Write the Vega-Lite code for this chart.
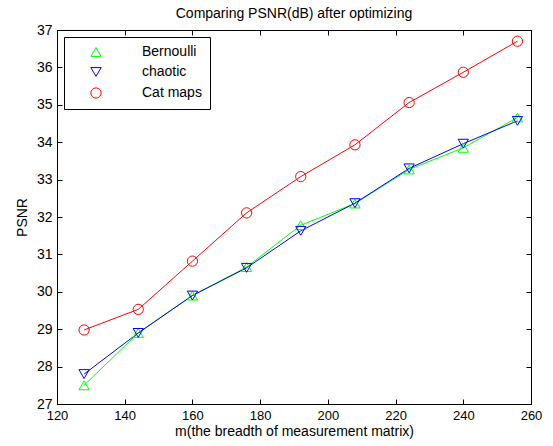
{
  "$schema": "https://vega.github.io/schema/vega-lite/v6.json",
  "width": 474,
  "height": 374,
  "autosize": {"type": "none"},
  "padding": {"left": 57, "top": 30, "right": 22, "bottom": 42},
  "background": "white",
  "title": {
    "text": "Comparing PSNR(dB) after optimizing",
    "font": "Liberation Sans",
    "fontSize": 14,
    "fontWeight": "normal",
    "color": "black",
    "anchor": "middle",
    "baseline": "alphabetic",
    "offset": -9
  },
  "config": {
    "view": {"stroke": "black", "strokeWidth": 1},
    "axis": {
      "grid": false,
      "domainColor": "black",
      "tickColor": "black",
      "tickSize": -5,
      "labelFont": "Liberation Sans",
      "labelFontSize": 13,
      "labelColor": "black",
      "titleFont": "Liberation Sans",
      "titleFontSize": 14,
      "titleFontWeight": "normal",
      "titleColor": "black",
      "labelFlush": false,
      "labelOverlap": false
    }
  },
  "data": {
    "values": [
      {"m": 128, "psnr": 27.5, "method": "Bernoulli"},
      {"m": 144, "psnr": 28.9, "method": "Bernoulli"},
      {"m": 160, "psnr": 29.9, "method": "Bernoulli"},
      {"m": 176, "psnr": 30.66, "method": "Bernoulli"},
      {"m": 192, "psnr": 31.78, "method": "Bernoulli"},
      {"m": 208, "psnr": 32.36, "method": "Bernoulli"},
      {"m": 224, "psnr": 33.27, "method": "Bernoulli"},
      {"m": 240, "psnr": 33.85, "method": "Bernoulli"},
      {"m": 256, "psnr": 34.66, "method": "Bernoulli"},
      {"m": 128, "psnr": 27.8, "method": "chaotic"},
      {"m": 144, "psnr": 28.9, "method": "chaotic"},
      {"m": 160, "psnr": 29.9, "method": "chaotic"},
      {"m": 176, "psnr": 30.64, "method": "chaotic"},
      {"m": 192, "psnr": 31.63, "method": "chaotic"},
      {"m": 208, "psnr": 32.37, "method": "chaotic"},
      {"m": 224, "psnr": 33.3, "method": "chaotic"},
      {"m": 240, "psnr": 33.96, "method": "chaotic"},
      {"m": 256, "psnr": 34.57, "method": "chaotic"},
      {"m": 128, "psnr": 28.98, "method": "Cat maps"},
      {"m": 144, "psnr": 29.53, "method": "Cat maps"},
      {"m": 160, "psnr": 30.82, "method": "Cat maps"},
      {"m": 176, "psnr": 32.11, "method": "Cat maps"},
      {"m": 192, "psnr": 33.08, "method": "Cat maps"},
      {"m": 208, "psnr": 33.93, "method": "Cat maps"},
      {"m": 224, "psnr": 35.06, "method": "Cat maps"},
      {"m": 240, "psnr": 35.87, "method": "Cat maps"},
      {"m": 256, "psnr": 36.7, "method": "Cat maps"}
    ]
  },
  "resolve": {"axis": {"x": "independent", "y": "independent"}},
  "layer": [
    {
      "mark": {"type": "line", "strokeWidth": 1},
      "encoding": {
        "x": {
          "field": "m", "type": "quantitative",
          "scale": {"domain": [120, 260], "nice": false, "zero": false},
          "axis": {
            "orient": "bottom",
            "values": [120, 140, 160, 180, 200, 220, 240, 260],
            "title": "m(the breadth of measurement matrix)",
            "labelPadding": 10,
            "titleX": 237,
            "titleY": 31.5,
            "titleBaseline": "alphabetic",
            "titleAnchor": "middle"
          }
        },
        "y": {
          "field": "psnr", "type": "quantitative",
          "scale": {"domain": [27, 37], "nice": false, "zero": false},
          "axis": {
            "orient": "left",
            "values": [27, 28, 29, 30, 31, 32, 33, 34, 35, 36, 37],
            "title": "PSNR",
            "labelFontSize": 14,
            "labelPadding": 10,
            "titleX": -31,
            "titleY": 187,
            "titleAngle": -90,
            "titleBaseline": "alphabetic",
            "titleAlign": "center"
          }
        },
        "color": {
          "field": "method", "type": "nominal",
          "sort": ["Bernoulli", "chaotic", "Cat maps"],
          "scale": {"domain": ["Bernoulli", "chaotic", "Cat maps"], "range": ["#00ff00", "#0000ff", "#ff0000"]},
          "legend": {
            "orient": "none",
            "legendX": 7,
            "legendY": 7,
            "title": null,
            "strokeColor": "black",
            "fillColor": "white",
            "padding": 8,
            "labelFont": "Liberation Sans",
            "labelFontSize": 14,
            "labelColor": "black",
            "symbolSize": 100,
            "symbolOffset": 17,
            "labelOffset": 39,
            "symbolStrokeWidth": 1,
            "symbolFillColor": "transparent",
            "rowPadding": 6
          }
        },
        "order": {"field": "m", "type": "quantitative"}
      }
    },
    {
      "mark": {"type": "point", "filled": false, "strokeWidth": 1, "opacity": 1},
      "encoding": {
        "x": {
          "field": "m", "type": "quantitative",
          "axis": {"orient": "top", "values": [120, 140, 160, 180, 200, 220, 240, 260], "labels": false, "title": null}
        },
        "y": {
          "field": "psnr", "type": "quantitative",
          "axis": {"orient": "right", "values": [27, 28, 29, 30, 31, 32, 33, 34, 35, 36, 37], "labels": false, "title": null}
        },
        "color": {"field": "method", "type": "nominal", "sort": ["Bernoulli", "chaotic", "Cat maps"]},
        "shape": {
          "field": "method", "type": "nominal",
          "scale": {"domain": ["Bernoulli", "chaotic", "Cat maps"], "range": ["triangle-up", "triangle-down", "circle"]},
          "legend": null
        },
        "size": {
          "field": "method", "type": "nominal",
          "scale": {"domain": ["Bernoulli", "chaotic", "Cat maps"], "range": [105, 105, 75]},
          "legend": null
        }
      }
    }
  ]
}
